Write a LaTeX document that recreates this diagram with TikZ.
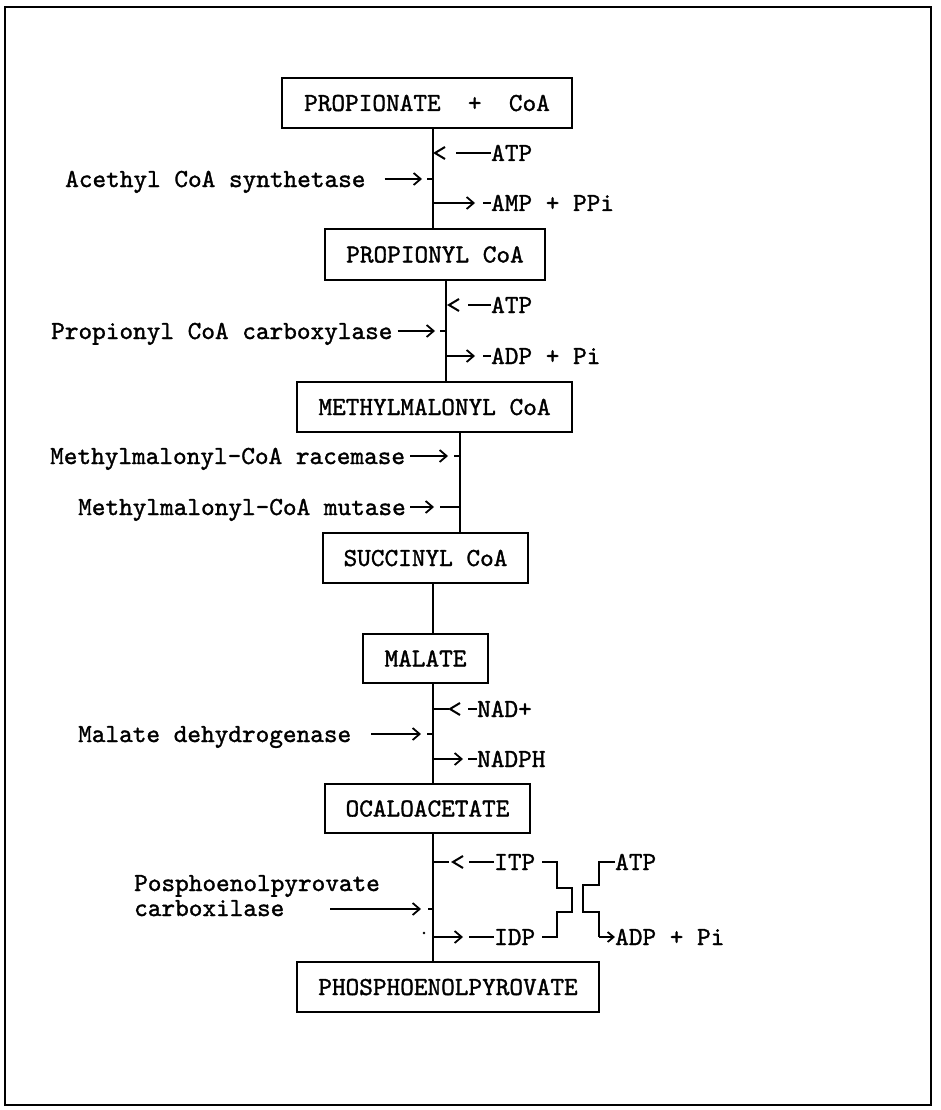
\documentclass[tikz,border=0pt]{standalone}
\usepackage{fontspec}
\newfontfamily\tw{lmmono10-regular.otf}[FakeBold=1.3]
\usetikzlibrary{arrows.meta,calc}
\begin{document}
\begin{tikzpicture}[x=1pt,y=-1pt,
  txt/.style={font=\tw\fontsize{26}{31}\selectfont, inner sep=0pt, text height=16pt, text depth=0pt},
  lbl/.style={txt, anchor=west},
  box/.style={txt, draw, line width=2.2pt, minimum height=50pt},
  conn/.style={line width=2pt},
  arr/.style={line width=1.8pt, -{Straight Barb[length=7pt,width=12pt]}},
]
\useasboundingbox (0,0) rectangle (940,1110);
% outer frame
\draw[line width=2.5pt] (5,7) rectangle (931,1105);

% metabolites
\node[box, minimum width=290pt] (b1) at (427,103) {PROPIONATE\ \ +\ \ CoA};
\node[box, minimum width=220pt, minimum height=51pt] (b2) at (435,254.5) {PROPIONYL CoA};
\node[box, minimum width=275pt] (b3) at (434.5,407) {METHYLMALONYL CoA};
\node[box, minimum width=205pt] (b4) at (425.5,558) {SUCCINYL CoA};
\node[box, minimum width=125pt, minimum height=49pt] (b5) at (425.5,658.5) {MALATE};
\node[box, minimum width=205pt, minimum height=49pt] (b6) at (427.5,808.5) {OCALOACETATE};
\node[box, minimum width=302pt] (b7) at (448,987) {PHOSPHOENOLPYROVATE};

% main pathway lines
\coordinate (xa) at (433,0);
\coordinate (xb) at (446,0);
\coordinate (xc) at (460,0);
\draw[conn] (b1.south -| xa) -- (b2.north -| xa);
\draw[conn] (b2.south -| xb) -- (b3.north -| xb);
\draw[conn] (b3.south -| xc) -- (b4.north -| xc);
\draw[conn] (b4.south -| xa) -- (b5.north -| xa);
\draw[conn] (b5.south -| xa) -- (b6.north -| xa);
\draw[conn] (b6.south -| xa) -- (b7.north -| xa);

% step 1: acethyl CoA synthetase
\node[lbl] (a1) at (491,153) {ATP};
\draw[conn] (445,147) -- (435,153) -- (445,159);
\draw[conn] (456,153) -- (a1.west);
\node[lbl] (e1) at (65,179) {Acethyl CoA synthetase};
\coordinate (m1) at (433,179);
\draw[arr] ($(e1.east)+(19,0)$) -- ($(m1)+(-11,0)$);
\draw[conn] (m1) -- +(-6,0);
\node[lbl] (p1) at (491,203) {AMP + PPi};
\coordinate (n1) at (433,203);
\draw[arr] (n1) -- +(42,0);
\draw[conn] (483,203) -- (p1.west);

% step 2: propionyl CoA carboxylase
\node[lbl] (a2) at (491,305) {ATP};
\draw[conn] (459,299) -- (449,305) -- (459,311);
\draw[conn] (468,305) -- (a2.west);
\node[lbl] (e2) at (51,331) {Propionyl CoA carboxylase};
\coordinate (m2) at (446,331);
\draw[arr] ($(e2.east)+(5,0)$) -- ($(m2)+(-11,0)$);
\draw[conn] (m2) -- +(-6,0);
\node[lbl] (p2) at (491,356) {ADP + Pi};
\coordinate (n2) at (446,356);
\draw[arr] (n2) -- +(29,0);
\draw[conn] (483,356) -- (p2.west);

% steps 3 and 4: racemase, mutase
\node[lbl] (e3) at (50,456) {Methylmalonyl-CoA racemase};
\coordinate (m3) at (460,456);
\draw[arr] ($(e3.east)+(5,0)$) -- ($(m3)+(-12,0)$);
\draw[conn] (m3) -- +(-6,0);
\node[lbl] (e4) at (78,507) {Methylmalonyl-CoA mutase};
\coordinate (m4) at (460,507);
\draw[arr] ($(e4.east)+(4,0)$) -- ($(m4)+(-26,0)$);
\draw[conn] (m4) -- +(-20,0);

% step 5: malate dehydrogenase
\node[lbl] (a5) at (477,709) {NAD+};
\coordinate (m5a) at (433,709);
\draw[conn] (m5a) -- +(16,0);
\draw[conn] (460,703) -- (450,709) -- (460,715);
\draw[conn] (468,709) -- (a5.west);
\node[lbl] (e5) at (78,734) {Malate dehydrogenase};
\coordinate (m5) at (433,734);
\draw[arr] ($(e5.east)+(20,0)$) -- ($(m5)+(-12,0)$);
\draw[conn] (m5) -- +(-6,0);
\node[lbl] (p5) at (477,759) {NADPH};
\coordinate (n5) at (433,759);
\draw[arr] (n5) -- +(30,0);
\draw[conn] (468,759) -- (p5.west);

% step 6: posphoenolpyrovate carboxilase
\node[lbl] (i6) at (494,862) {ITP};
\coordinate (m6a) at (433,862);
\draw[conn] (m6a) -- +(16,0);
\draw[conn] (463,856) -- (453,862) -- (463,868);
\draw[conn] (469,862) -- (i6.west);
\node[lbl] (e6) at (134,883) {Posphoenolpyrovate};
\node[lbl] (e6b) at (134,908) {carboxilase};
\coordinate (m6) at (433,909);
\draw[arr] (330,909) -- ($(m6)+(-12,0)$);
\draw[conn] (m6) -- +(-5,0);
\node[lbl] (d6) at (494,937) {IDP};
\coordinate (n6) at (433,937);
\draw[arr] (n6) -- +(30,0);
\draw[conn] (469,937) -- (d6.west);
\fill (424,933) circle (1.3pt);

% nucleotide exchange braces
\draw[conn] ($(i6.east)+(7,0)$) -- (557,862) -- (557,888) -- (572,888)
  -- (572,912) -- (557,912) -- (557,937) -- ($(d6.east)+(7,0)$);
\node[lbl] (a6) at (615,862) {ATP};
\node[lbl] (p6) at (615,937) {ADP + Pi};
\draw[conn] (a6.west) -- (599,862) -- (599,885) -- (583,885) -- (583,912) -- (599,912) -- (599,937);
\draw[arr, -{Straight Barb[length=6pt,width=10pt]}] (599,937) -- (p6.west);
\end{tikzpicture}
\end{document}
